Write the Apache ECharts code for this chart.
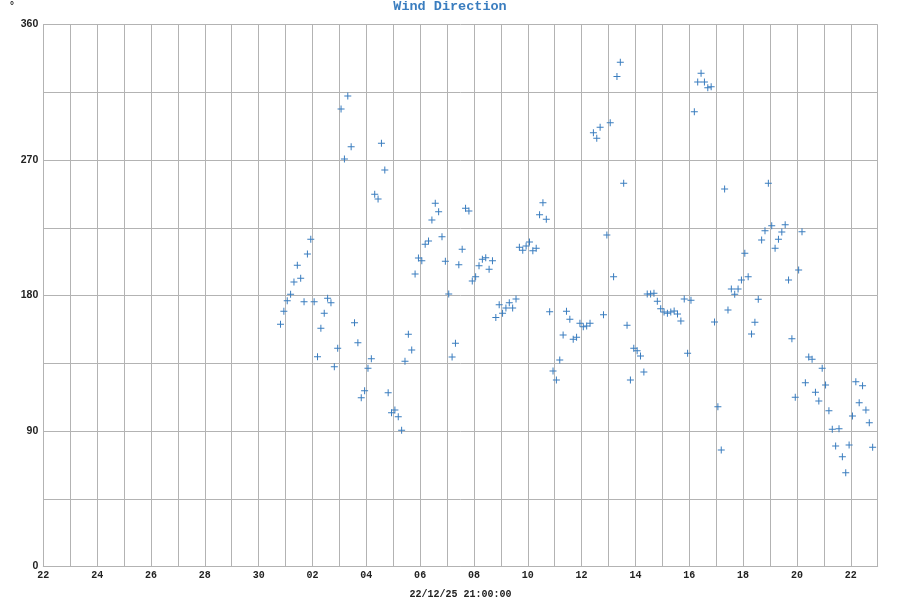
<!DOCTYPE html>
<html>
<head>
<meta charset="utf-8">
<script src="https://cdn.jsdelivr.net/npm/echarts@6/dist/echarts.min.js"></script>
<style>
html,body{margin:0;padding:0;background:#fff;}
#chart{width:900px;height:600px;}
</style>
</head>
<body>
<div id="chart"></div>
<script>
// ---- data ----
const TITLE = 'Wind Direction';
const X_AXIS_NAME = '22/12/25 21:00:00';
const Y_UNIT = '°';
const AXIS_START = '2025-11-22T00:00:00Z';
const AXIS_END = '2025-12-23T00:00:00Z';
const FIRST_READING = '2025-11-30T19:30:00Z';
const READING_STEP_HOURS = 3;
const Y_TICKS = [0, 90, 180, 270, 360];
// wind direction (degrees), one reading every 3 hours
const windDirection = [
  161, 169.5, 176.6, 180.8, 189, 200.1, 191.5, 175.9,
  207.6, 217.4, 175.9, 139.4, 158.2, 168.2, 178.2, 175.2,
  132.7, 145, 303.9, 270.7, 312.6, 278.9, 162, 148.7,
  112.1, 116.8, 131.7, 138, 247.3, 244.1, 281.1, 263.4,
  115.5, 102.2, 104, 99.5, 90.5, 136.3, 154.3, 143.8,
  194.3, 204.9, 203.2, 214, 216.2, 230.2, 241.3, 235.7,
  219.1, 202.8, 181, 139.2, 148.3, 200.5, 210.7, 238,
  236.2, 189.7, 192.5, 199.8, 204.1, 205.1, 197.4, 203.2,
  165.5, 173.9, 168.2, 171.7, 175.2, 171.7, 177.7, 212.1,
  210.1, 212.9, 215.6, 209.8, 211.4, 233.7, 241.7, 230.7,
  169.3, 129.9, 123.9, 137.2, 153.8, 169.5, 164.2, 150.9,
  152.3, 161.6, 159.3, 159.8, 161.6, 288.2, 284.5, 291.8,
  167.3, 220.2, 294.8, 192.5, 325.6, 335, 254.6, 160.2,
  123.9, 145, 143.4, 139.8, 129.2, 181, 181, 181.5,
  176.2, 171.3, 169.1, 168.2, 169.1, 169.7, 167.7, 163.1,
  177.7, 141.6, 176.8, 302.1, 321.9, 327.6, 321.9, 318.1,
  318.7, 162.4, 106.2, 77.4, 250.8, 170.4, 184.3, 180.8,
  184.3, 190.3, 208.1, 192.5, 154.5, 162.2, 177.5, 216.9,
  223.1, 254.6, 226.4, 211.4, 217.4, 222.2, 227.1, 190.3,
  151.3, 112.4, 197, 222.4, 122.1, 139.2, 137.6, 115.7,
  109.9, 131.7, 120.6, 103.5, 91.1, 80, 91.5, 72.9,
  62.3, 80.7, 100, 122.8, 108.8, 120.1, 104, 95.5,
  79.2
];

// ---- chart ----
const DAY = 86400000;
const axisMin = Date.parse(AXIS_START);
const axisMax = Date.parse(AXIS_END);
const t0 = Date.parse(FIRST_READING);
const points = windDirection.map((v, i) => [t0 + i * READING_STEP_HOURS * 3600000, v]);

const gridColor = '#b3b3b3';
const chart = echarts.init(document.getElementById('chart'), null, {renderer: 'canvas'});
chart.setOption({
  animation: false,
  backgroundColor: '#ffffff',
  title: {
    text: TITLE,
    left: 'center',
    top: 0,
    padding: 0,
    textStyle: {
      fontFamily: "'Courier New', 'Liberation Mono', monospace",
      fontWeight: 'bold',
      fontSize: 13.5,
      color: '#3a7dbf'
    }
  },
  graphic: [{
    type: 'text',
    left: 10,
    top: 1,
    style: {text: Y_UNIT, font: 'bold 10px "Liberation Sans", sans-serif', fill: '#222'}
  }],
  grid: {left: 43.3, right: 22.3, top: 24.6, bottom: 33.5, containLabel: false, outerBoundsMode: 'none'},
  xAxis: {
    type: 'value',
    min: axisMin,
    max: axisMax,
    interval: DAY,
    name: X_AXIS_NAME,
    nameLocation: 'middle',
    nameGap: 23,
    nameTextStyle: {
      fontFamily: "'Courier New', 'Liberation Mono', monospace",
      fontWeight: 'bold',
      fontSize: 10,
      color: '#222'
    },
    axisLine: {show: true, lineStyle: {color: gridColor, width: 1}},
    axisTick: {show: false},
    splitLine: {show: true, lineStyle: {color: gridColor, width: 1}},
    axisLabel: {
      margin: 4,
      fontFamily: "'Courier New', 'Liberation Mono', monospace",
      fontWeight: 'bold',
      fontSize: 10,
      color: '#222',
      showMaxLabel: false,
      formatter: function (v) {
        const d = Math.round((v - axisMin) / DAY);
        if (d % 2 !== 0) return '';
        const day = new Date(v).getUTCDate();
        return (day < 10 ? '0' : '') + day;
      }
    }
  },
  yAxis: {
    type: 'value',
    min: Y_TICKS[0],
    max: Y_TICKS[Y_TICKS.length - 1],
    interval: 45,
    axisLine: {show: true, lineStyle: {color: gridColor, width: 1}},
    axisTick: {show: false},
    splitLine: {show: true, lineStyle: {color: gridColor, width: 1}},
    axisLabel: {
      margin: 5,
      fontFamily: "'Liberation Sans', Arial, sans-serif",
      fontWeight: 'bold',
      fontSize: 10.5,
      color: '#222',
      formatter: function (v) { return Y_TICKS.indexOf(v) >= 0 ? String(v) : ''; }
    }
  },
  series: [{
    type: 'scatter',
    data: points,
    symbol: 'path://M3,0H4V3H7V4H4V7H3V4H0V3H3Z',
    symbolSize: 7,
    itemStyle: {color: '#3a7dbf', opacity: 1},
    silent: true
  }]
});
</script>
</body>
</html>
